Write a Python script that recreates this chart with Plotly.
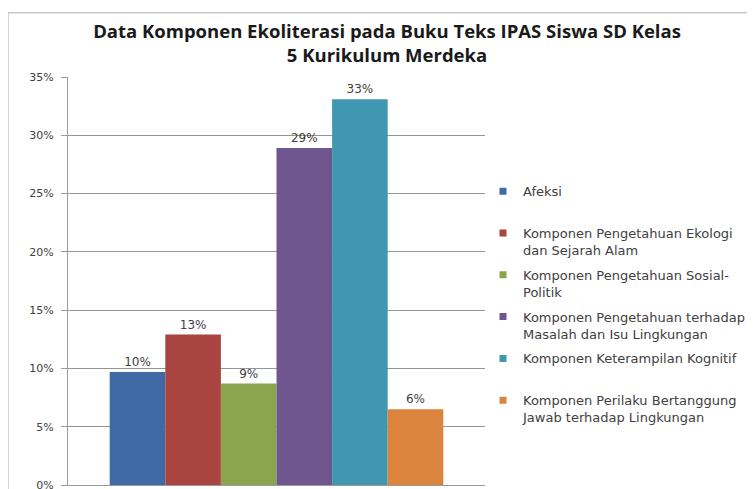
import plotly.graph_objects as go

# Data
categories = ["Kelas 5"]
series_names = [
    "Afeksi",
    "Komponen Pengetahuan Ekologi<br>dan Sejarah Alam",
    "Komponen Pengetahuan Sosial-<br>Politik",
    "Komponen Pengetahuan terhadap<br>Masalah dan Isu Lingkungan",
    "Komponen Keterampilan Kognitif",
    "Komponen Perilaku Bertanggung<br>Jawab terhadap Lingkungan",
]
series_values = [0.097, 0.129, 0.087, 0.289, 0.331, 0.065]
value_labels = ["10%", "13%", "9%", "29%", "33%", "6%"]
colors = ["#3f6aa6", "#aa4441", "#8aa54d", "#70568f", "#3f98b0", "#db843d"]

# page offset (browser body margin)
O = 8
W, H = 755 - O, 489 - O
# plot area in page pixels
PL, PR, PT, PB = 68, 485, 76.5, 485.5
L, R, T, B = PL - O, W - (PR - O), PT - O, H - (PB - O)

fig = go.Figure()
for i, (name, v, lab, c) in enumerate(zip(series_names, series_values, value_labels, colors)):
    fig.add_trace(go.Bar(
        x=categories, y=[v], name=name, marker=dict(color=c, line=dict(width=0)),
        text=[lab], textposition="outside", cliponaxis=False,
        textfont=dict(family="DejaVu Sans", size=12, color="#404040"),
        legendgroup=f"g{i}", showlegend=False,
    ))
for i, (name, c) in enumerate(zip(series_names, colors)):
    if "<br>" not in name:
        name = name + "<br> "
    fig.add_trace(go.Scatter(
        x=[None], y=[None], mode="markers", name=name,
        marker=dict(symbol="square", size=7, color=c),
        legendgroup=f"g{i}", showlegend=True,
    ))

def px_x(x):
    return (x - PL) / (PR - PL)

def px_y(y):
    return (PB - y) / (PB - PT)

fig.update_layout(
    width=W, height=H,
    margin=dict(l=L, r=R, t=T, b=B, autoexpand=False),
    paper_bgcolor="white", plot_bgcolor="white",
    barmode="group", bargap=0.2, bargroupgap=0,
    title=dict(
        text="Data Komponen Ekoliterasi pada Buku Teks IPAS Siswa SD Kelas<br>5 Kurikulum Merdeka",
        x=(387 - O) / W, xanchor="center", y=1 - (43.5 - O - 6) / H, yanchor="middle",
        font=dict(family="Open Sans", size=18.5, color="#1a1a1a", weight="bold"),
    ),
    showlegend=True,
    legend=dict(
        x=px_x(483), xanchor="left", y=px_y(176), yanchor="top",
        font=dict(family="DejaVu Sans", size=13, color="#404040"),
        valign="top", tracegroupgap=5, itemwidth=30,
        bgcolor="rgba(0,0,0,0)",
    ),
    xaxis=dict(
        showticklabels=False, showgrid=False, zeroline=False,
        showline=True, linecolor="#9a9a9a", linewidth=1,
        ticks="", range=[-0.5, 0.5],
    ),
    yaxis=dict(
        range=[0, 0.35], dtick=0.05, tickformat=".0%",
        showgrid=True, gridcolor="#959595", gridwidth=1,
        showline=True, linecolor="#9a9a9a", linewidth=1,
        ticks="outside", ticklen=6, tickcolor="#9a9a9a",
        ticklabelstandoff=5, ticklabeloverflow="allow",
        zeroline=False,
        tickfont=dict(family="DejaVu Sans", size=11, color="#404040"),
    ),
    shapes=[dict(
        type="rect", xref="paper", yref="paper",
        x0=px_x(8), x1=px_x(770), y0=px_y(500), y1=px_y(12),
        line=dict(color="#c8c8c8", width=1.5), fillcolor="rgba(0,0,0,0)",
        layer="below",
    )],
)

fig.write_html("out.html")
